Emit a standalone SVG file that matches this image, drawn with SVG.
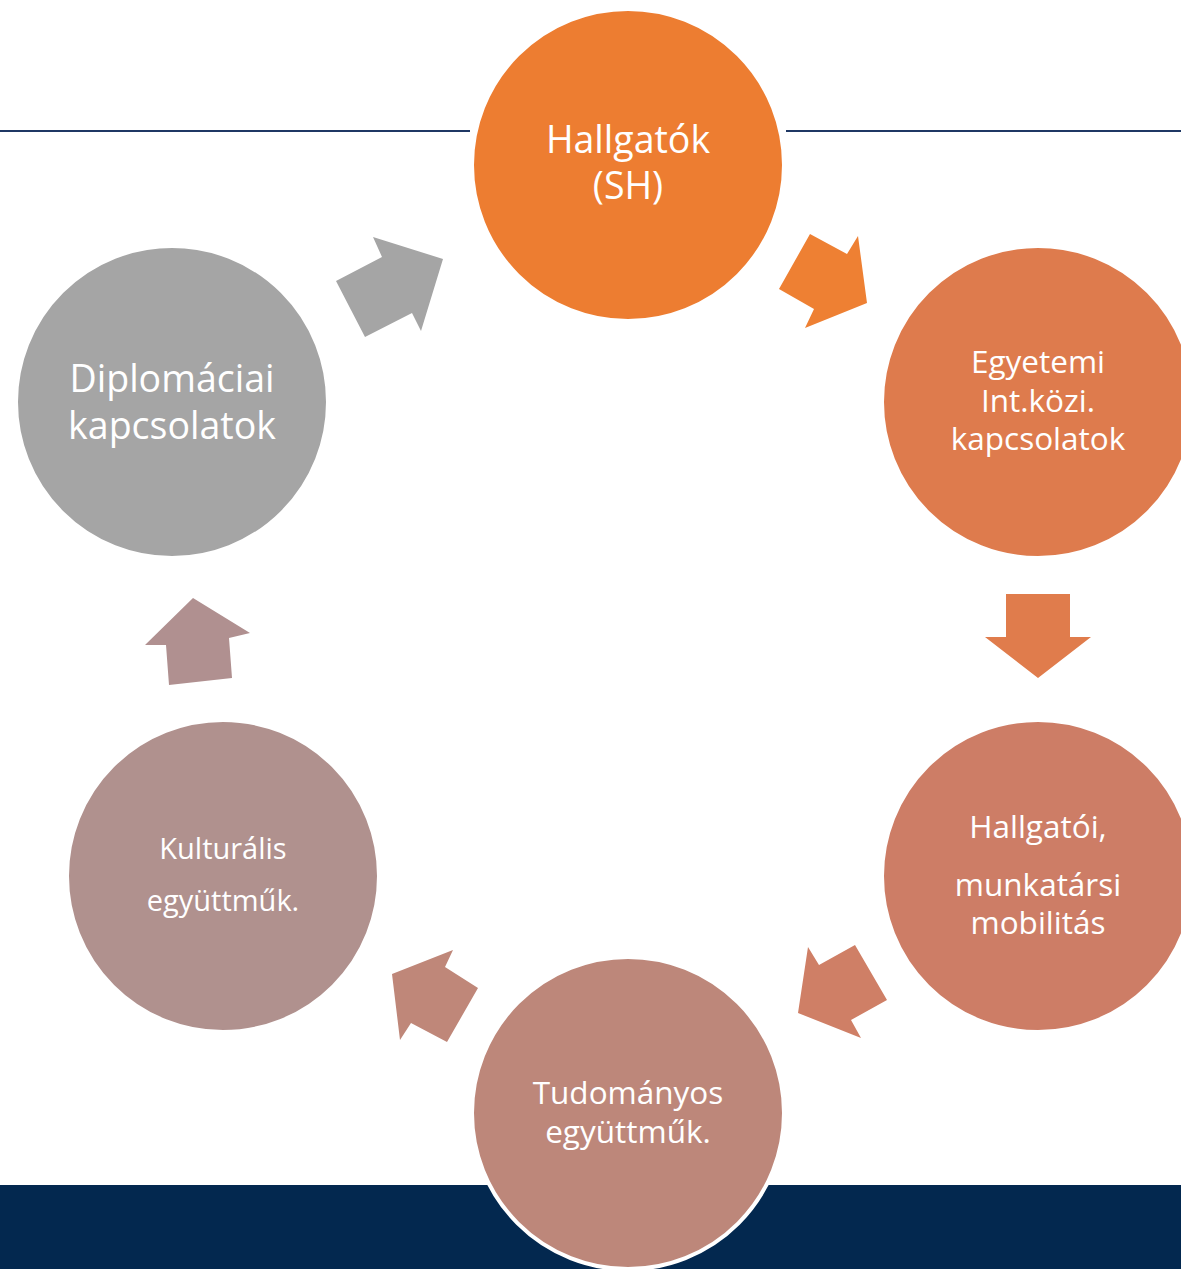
<svg xmlns="http://www.w3.org/2000/svg" width="1181" height="1269" viewBox="0 0 1181 1269">
<style>
.t{font-family:"Open Sans","Noto Sans","Liberation Sans",sans-serif;fill:#ffffff;text-anchor:middle}
.c{stroke:#ffffff;stroke-width:4}
</style>
<rect x="0" y="0" width="1181" height="1269" fill="#ffffff"/>
<rect x="0" y="1185" width="1181" height="84" fill="#03284f"/>
<g id="lines" stroke="#1f3864" stroke-width="2">
<line x1="0" y1="131" x2="470" y2="131"/>
<line x1="786" y1="131" x2="1181" y2="131"/>
</g>
<g id="connectors">
<polygon points="810,234 847,254 858,236 867,303 805,328 814,309 779,289" fill="#ee8033"/>
<polygon points="1006,594 1070,594 1070,637 1091,637 1038,678 985,637 1006,637" fill="#e07c4c"/>
<polygon points="855,945 887,1000 851,1020 861,1038 798,1013 808,947 819,965" fill="#cf7f66"/>
<polygon points="453,950 445,967 478,988 447,1042 411,1023 400,1040 392,974" fill="#bf8779"/>
<polygon points="193,598 250,633 229,638 232,678 169,685 166,645 145,645" fill="#b09090"/>
<polygon points="336,281 382,257 373,237 443,259 421,331 412,313 365,337" fill="#a5a5a5"/>
</g>
<g id="n1"><circle class="c" cx="628" cy="165" r="156" fill="#ed7d31"/>
<text class="t" x="628" y="153" font-size="37.5">Hallgatók</text>
<text class="t" x="628" y="199" font-size="37.5">(SH)</text></g>
<g id="n2"><circle class="c" cx="1038" cy="402" r="156" fill="#de7b4d"/>
<text class="t" x="1038" y="373" font-size="31.5">Egyetemi</text>
<text class="t" x="1038" y="412" font-size="31.5">Int.közi.</text>
<text class="t" x="1038" y="450" font-size="31.5">kapcsolatok</text></g>
<g id="n3"><circle class="c" cx="1038" cy="876" r="156" fill="#cd7d66"/>
<text class="t" x="1038" y="838" font-size="31.5">Hallgatói,</text>
<text class="t" x="1038" y="896" font-size="31.5">munkatársi</text>
<text class="t" x="1038" y="934" font-size="31.5">mobilitás</text></g>
<g id="n4"><circle class="c" cx="628" cy="1113" r="156" fill="#bd877a"/>
<text class="t" x="628" y="1104" font-size="31.5">Tudományos</text>
<text class="t" x="628" y="1143" font-size="31.5">együttműk.</text></g>
<g id="n5"><circle class="c" cx="223" cy="876" r="156" fill="#b0918e"/>
<text class="t" x="223" y="859" font-size="29">Kulturális</text>
<text class="t" x="223" y="911" font-size="29">együttműk.</text></g>
<g id="n6"><circle class="c" cx="172" cy="402" r="156" fill="#a5a5a5"/>
<text class="t" x="172" y="392" font-size="37.5">Diplomáciai</text>
<text class="t" x="172" y="439" font-size="37.5">kapcsolatok</text></g>
</svg>
